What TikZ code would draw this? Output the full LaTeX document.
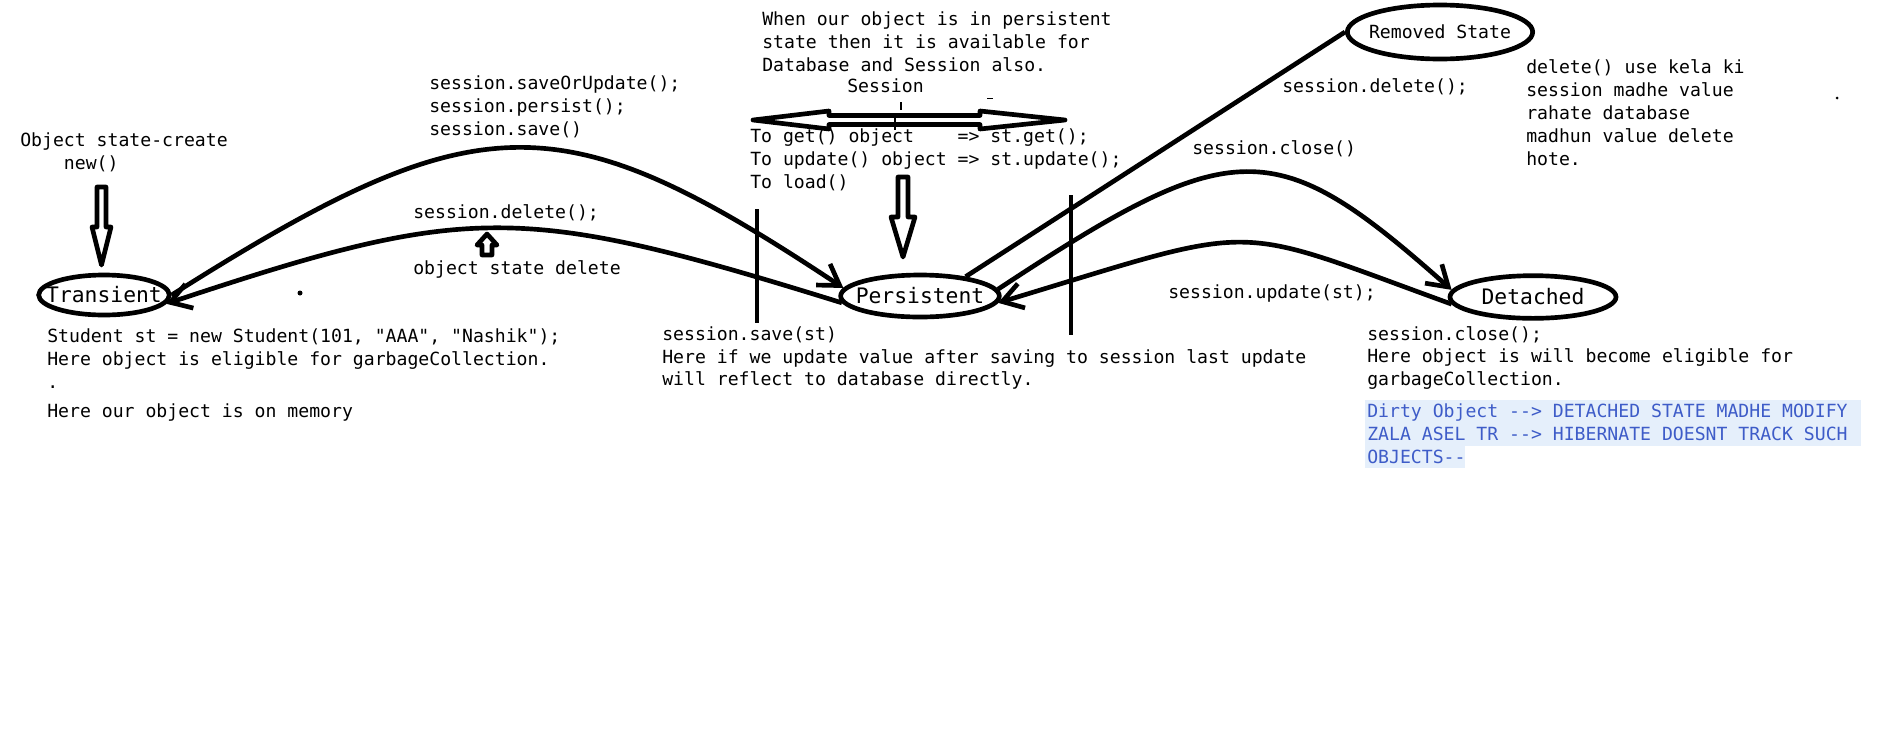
\documentclass[tikz,border=0pt]{standalone}
\usepackage{fontspec}
\setmonofont{DejaVu Sans Mono}
\usepackage{tikz}
\usetikzlibrary{arrows.meta, positioning, shapes.geometric}
\usepackage{xcolor}
\definecolor{dirtyblue}{RGB}{62,92,200}
\definecolor{markbg}{RGB}{229,239,251}

\begin{document}
\begin{tikzpicture}[
    x=0.75pt, y=-0.75pt,
    txt/.style={font=\ttfamily\fontsize{13.6}{17.2}\selectfont, inner sep=0pt, anchor=west, align=left},
    state/.style={ellipse, draw, line width=3.5pt, inner sep=0pt, font=\ttfamily\fontsize{16}{19}\selectfont},
    arrow/.style={-{Straight Barb[length=15pt, width=19pt]}, line width=3.5pt},
    link/.style={line width=3.5pt},
    hollow/.style={draw, line width=3.5pt, fill=white, line join=round}
]
    \useasboundingbox (0,0) rectangle (1887,754);

    % Zustaende
    \node[state, minimum width=98pt, minimum height=30pt] (trans) at (104,295) {\makebox[0pt]{Transient}};
    \node[state, minimum width=119pt, minimum height=31.5pt] (pers) at (920,296) {\makebox[0pt]{Persistent}};
    \node[state, minimum width=124.5pt, minimum height=32pt] (det) at (1533,297) {\makebox[0pt]{Detached}};
    \node[state, minimum width=139pt, minimum height=40.5pt, font=\ttfamily\fontsize{13.6}{17.2}\selectfont] (removed) at (1440,32) {\makebox[0pt]{Removed State}};

    % Uebergaenge
    \draw[arrow] (trans.east) .. controls (480,100) and (560,100) .. (pers.174);
    \draw[arrow] (pers.185) .. controls (520,203) and (470,203) .. (trans.-8);
    \draw[link] (pers.23) -- (removed.west);
    \draw[arrow] (pers.5) .. controls (1235,133) and (1275,133) .. (det.175);
    \draw[arrow] (det.185) .. controls (1225,222) and (1266,222) .. (pers.-5);

    % hohle Pfeile
    \draw[hollow] (97,187) -- (106,187) -- (106,227) -- (111,227) -- (101.5,265) -- (92,227) -- (97,227) -- cycle;
    \draw[hollow] (898,177) -- (908,177) -- (908,217) -- (915,217) -- (903,257) -- (891,217) -- (898,217) -- cycle;
    \draw[hollow] (487,234) -- (497,245) -- (492,245) -- (492,255) -- (482,255) -- (482,245) -- (477,245) -- cycle;
    \draw[hollow] (753,120) -- (829,111) -- (829,115.5) -- (980,115.5) -- (980,111) -- (1065,120) -- (980,129) -- (980,124.5) -- (829,124.5) -- (829,129) -- cycle;

    % Striche
    \draw[link] (757,209) -- (757,323);
    \draw[link] (1071,195) -- (1071,335);
    \draw[line width=1.5pt] (895,118) -- (895,130);
    \draw[line width=1.5pt] (901,102) -- (901,110);
    \draw[line width=0.75pt] (987,98) -- (993,98);
    \fill (300,293) circle (2.5);
    \fill (1837,98) circle (1.5);

    % Texte links
    \node[txt] (create) at (20,152.5) {Object state-create\\\phantom{xxxx}new()};
    \node[txt] (stud) at (47,359) {Student st = new Student(101, "AAA", "Nashik");\\Here object is eligible for garbageCollection.\\.};
    \node[txt, below=11pt of stud.south west, anchor=north west] (memory) {Here our object is on memory};
    \node[txt] (savetxt) at (429,106.5) {session.saveOrUpdate();\\session.persist();\\session.save()};
    \node[txt] (deltxt) at (413,213) {session.delete();};
    \node[txt] (delstate) at (413,269) {object state delete};

    % Texte Mitte
    \node[txt] (persinfo) at (762,41.5) {When our object is in persistent\\state then it is available for\\Database and Session also.};
    \node[txt] (session) at (847,86) {Session};
    \node[txt] (ops) at (750,159.5) {To get() object\phantom{xxxx}=> st.get();\\To update() object => st.update();\\To load()};
    \node[txt] (savest) at (662,358) {session.save(st)\\Here if we update value after saving to session last update\\will reflect to database directly.};

    % Texte rechts
    \node[txt] (remdel) at (1282,87) {session.delete();};
    \node[txt] (closetxt) at (1192,149) {session.close()};
    \node[txt] (remnote) at (1526,112.5) {delete() use kela ki\\session madhe value\\rahate database\\madhun value delete\\hote.};
    \node[txt] (updtxt) at (1168,293) {session.update(st);};
    \node[txt] (detnote) at (1367,358) {session.close();\\Here object is will become eligible for\\garbageCollection.};
    \fill[markbg] (1365,400) rectangle (1861,446);
    \fill[markbg] (1365,446) rectangle (1465,468);
    \node[txt, text=dirtyblue] (dirty) at (1367,434) {Dirty Object {-}{-}> DETACHED STATE MADHE MODIFY\\ZALA ASEL TR {-}{-}> HIBERNATE DOESNT TRACK SUCH\\OBJECTS{-}{-}};
\end{tikzpicture}
\end{document}
